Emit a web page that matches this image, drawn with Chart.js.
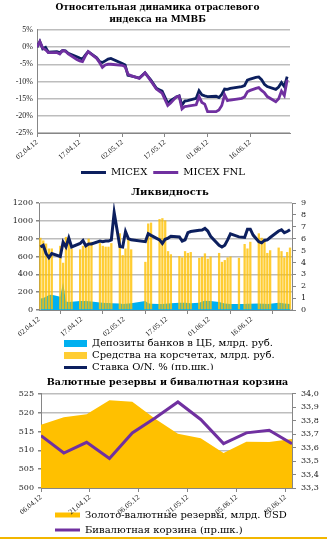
<!DOCTYPE html>
<html>
<head>
<meta charset="utf-8">
<script src="https://cdn.jsdelivr.net/npm/chart.js@4.4.0/dist/chart.umd.min.js"></script>
<style>
  body { margin: 0; background: #fff; width: 327px; height: 540px; position: relative; overflow: hidden; }
  canvas { position: absolute; left: 0; background: #fff; }
  #c1 { top: 0; }
  #c2 { top: 180px; }
  #c3 { top: 370px; }
  #rule { position: absolute; left: 0; top: 537px; width: 327px; height: 2px; background: #f2b600; }
</style>
</head>
<body>
<canvas id="c1" width="327" height="180"></canvas>
<canvas id="c2" width="327" height="200"></canvas>
<canvas id="c3" width="327" height="170"></canvas>
<div id="rule"></div>
<script>
Chart.defaults.font.family = "'DejaVu Serif', serif";
Chart.defaults.color = '#222';
Chart.defaults.animation = false;

// x ticks: every 15 days, day 0 = first date
const tickDays = [0, 15, 30, 45, 60, 75];
const tickLabels = ['02.04.12', '17.04.12', '02.05.12', '17.05.12', '01.06.12', '16.06.12'];
const weekTickLabels = ['06.04.12', '21.04.12', '06.05.12', '21.05.12', '05.06.12', '20.06.12'];

// chart 1: relative index dynamics, % (day offset from 02.04.12)
const days1 = [0,1,2,3,4,7,8,9,10,11,14,15,16,17,18,21,22,23,24,25,26,30,31,32,33,36,38,39,40,42,43,44,46,47,
  49,50,51,52,53,56,57,58,59,60,63,64,65,66,67,68,72,73,74,75,77,78,79,80,81,84,85,86,87,88];
const micex = [0,1.6,-0.5,-0.1,-1.5,-1.3,-1.6,-1.0,-1.1,-1.8,-2.8,-3.2,-3.5,-2.3,-1.3,-3.1,-4.2,-4.5,-4.0,-3.5,-3.3,
  -4.8,-5.2,-8.2,-8.4,-9.0,-7.5,-8.5,-9.5,-12.0,-12.4,-12.8,-16.4,-15.6,
  -14.5,-14.2,-16.9,-15.7,-15.6,-14.9,-12.7,-13.9,-14.2,-14.4,-14.3,-14.7,-13.8,-12.2,-12.3,-12.0,
  -11.5,-11.2,-9.6,-9.3,-8.8,-8.7,-9.5,-10.8,-11.5,-12.3,-11.6,-10.3,-11.5,-8.6];
const micexFnl = [0,1.6,-0.3,-0.8,-1.6,-1.6,-2.0,-1.0,-1.2,-2.0,-3.6,-4.0,-4.2,-2.6,-1.3,-3.3,-4.5,-5.9,-5.2,-5.0,-5.0,
  -5.3,-5.7,-7.9,-8.3,-9.1,-7.5,-8.6,-9.8,-12.2,-12.8,-13.4,-17.0,-16.3,
  -14.5,-14.3,-18.0,-17.3,-17.2,-16.8,-14.4,-16.1,-16.6,-18.8,-18.8,-18.3,-17.0,-13.9,-15.6,-15.4,
  -14.9,-14.5,-13.0,-12.6,-12.0,-11.8,-12.6,-13.3,-14.4,-15.9,-15.0,-12.8,-14.1,-9.5];

// chart 2: liquidity
const barDays = [0,1,2,3,4, 7,8,9,10,11, 14,15,16,17,18, 21,22,23,24,25, 28,29,30,31,32, 37,38,39,
  42,43,44,45,46, 49,50,51,52,53, 56,57,58,59,60, 63,64,65,66,67, 70, 72,73,74, 77,78,79,80,81, 84,85,86,87,88];
const corrAccounts = [810,780,745,690,690, 720,530,820,800,690, 680,720,740,800,765, 750,720,710,710,750,
  860,615,690,810,680, 540,970,980, 1020,1030,1005,660,625, 605,590,660,640,650, 585,595,635,575,600,
  640,540,560,590,600, 585, 740,690,765, 860,810,790,640,670, 700,660,590,650,700];
const deposits = [130,135,150,168,170, 150,310,95,90,92, 100,102,100,98,95, 85,80,78,78,75,
  72,68,70,72,75, 100,75,70, 68,68,70,72,75, 80,82,80,78,75, 80,95,105,102,100,
  90,80,72,70,68, 68, 68,70,70, 72,70,70,68,70, 80,78,72,70,68];
const rateDays = [0,1,2,3,4,7,8,9,10,11,14,15,16,17,18,21,22,23,24,25,26,28,29,30,31,32,37,38,39,
  42,43,44,45,46,49,50,51,52,53,56,57,58,59,60,63,64,65,66,67,70,72,73,74,75,77,78,79,80,81,84,85,86,87,88];
const rateON = [5.3,5.45,4.75,4.4,4.75, 4.5,5.7,5.3,6.05,5.3, 5.6,5.85,5.4,5.55,5.55, 5.8,5.75,5.8,5.8,5.9,8.2,
  5.35,5.3,6.6,6.0,5.9, 5.75,6.42,6.28, 5.9,5.6,5.95,6.05,6.2, 6.15,5.8,5.9,6.5,6.6,
  6.7,6.72,6.86,6.64,6.2, 5.45,5.3,5.45,5.9,6.4, 6.15, 6.1,6.8,6.8,6.3, 5.75,5.65,5.85,5.9,6.1,
  6.65,6.75,6.5,6.6,6.75];

// chart 3: reserves (weekly, day offset from 06.04.12) and basket
const weekDays = [0,7,14,21,28,35,42,49,56,63,70,77];
const reserves = [516.8,518.8,519.6,523.3,522.9,518.4,514.4,513.2,509.3,512.3,512.2,513.0];
const basket = [33.69,33.56,33.64,33.52,33.71,33.82,33.94,33.81,33.63,33.71,33.73,33.63];

const pts = (xs, ys) => xs.map((x, i) => ({x: x, y: ys[i]}));

// moves title / legend boxes after layout (legend box kept open to the canvas bottom)
const nudge = {
  id: 'nudge',
  afterLayout(chart, args, o) {
    const lg = chart.legend, tb = chart.titleBlock;
    if (lg && o.legend) {
      lg.left += o.legend[0]; lg.right += o.legend[0];
      lg.top += o.legend[1]; lg.bottom = chart.height;
    }
    if (tb && o.title) {
      tb.left += o.title[0]; tb.right += o.title[0];
      tb.top += o.title[1]; tb.bottom += o.title[1];
    }
  }
};

const gridGray = '#bdbdbd';
const axisGray = '#868686';
const byIndex = (a, b) => a.datasetIndex - b.datasetIndex;

function xAxis(min, max, labels, shift, h) {
  return {
    type: 'linear', min: min, max: max, offset: false,
    afterBuildTicks: s => { s.ticks = tickDays.map(d => ({value: d + shift})); },
    afterFit: s => { s.height = h; },
    ticks: { minRotation: 40, maxRotation: 40, autoSkip: false, padding: 1,
      font: {family: 'Liberation Serif', size: 7.5}, callback: (v, i) => labels[i] },
    grid: { drawOnChartArea: false, tickLength: 4, tickColor: axisGray },
    border: { color: axisGray }
  };
}

new Chart('c1', {
  type: 'line',
  data: {
    datasets: [
      { label: 'MICEX', data: pts(days1, micex), borderColor: '#0c1f5e', backgroundColor: '#0c1f5e',
        borderWidth: 2.8, pointRadius: 0, pointStyle: 'line', tension: 0, order: 2 },
      { label: 'MICEX FNL', data: pts(days1, micexFnl), borderColor: '#7030a0', backgroundColor: '#7030a0',
        borderWidth: 2.8, pointRadius: 0, pointStyle: 'line', tension: 0, order: 1 }
    ]
  },
  options: {
    responsive: false,
    layout: { padding: { right: 37 } },
    scales: {
      x: xAxis(0, 89, tickLabels, 0, 30),
      y: {
        min: -25, max: 5,
        afterFit: s => { s.width = 37; },
        ticks: { stepSize: 5, padding: 4, autoSkip: false, font: {family: 'Liberation Serif', size: 8},
          callback: v => v + '%' },
        grid: { color: gridGray, lineWidth: 1.5, drawTicks: false },
        border: { color: axisGray }
      }
    },
    plugins: {
      title: { display: true, text: ['Относительная динамика отраслевого', 'индекса на ММВБ'], color: '#000',
        font: {size: 9, weight: 'bold', lineHeight: 1.3}, padding: {top: 2, bottom: 4.5} },
      legend: { position: 'bottom', maxHeight: 17,
        labels: { usePointStyle: true, pointStyleWidth: 25, boxHeight: 8, padding: 6, color: '#000',
          font: {size: 10}, sort: byIndex } },
      tooltip: { enabled: false },
      nudge: { legend: [18, -1.5], title: [12.5, 0] }
    }
  },
  plugins: [nudge]
});

new Chart('c2', {
  type: 'bar',
  data: {
    datasets: [
      { type: 'line', label: 'Депозиты банков в ЦБ, млрд. руб.', data: pts(barDays, deposits), yAxisID: 'y',
        fill: 'origin', backgroundColor: '#00b0f0', borderColor: '#00b0f0', borderWidth: 0, pointRadius: 0,
        pointStyle: 'rect', tension: 0, order: 3 },
      { type: 'bar', label: 'Средства на корсчетах, млрд. руб.', data: pts(barDays, corrAccounts), yAxisID: 'y',
        backgroundColor: 'rgba(255,192,0,0.8)', borderWidth: 0, barPercentage: 0.9, categoryPercentage: 0.9,
        pointStyle: 'rect', order: 2 },
      { type: 'line', label: 'Ставка O/N, % (пр.шк.)', data: pts(rateDays, rateON), yAxisID: 'y1',
        borderColor: '#0c1f5e', backgroundColor: '#0c1f5e', borderWidth: 3, pointRadius: 0,
        pointStyle: 'line', tension: 0, order: 1 }
    ]
  },
  options: {
    responsive: false,
    scales: {
      x: xAxis(-0.5, 88.7, tickLabels, -0.5, 30),
      y: {
        position: 'left', min: 0, max: 1200,
        afterFit: s => { s.width = 39; },
        ticks: { stepSize: 200, padding: 3, autoSkip: false, font: {size: 8}, callback: v => String(v) },
        grid: { color: gridGray, lineWidth: 1.5, tickLength: 3, tickColor: axisGray },
        border: { color: axisGray }
      },
      y1: {
        position: 'right', min: 0, max: 9,
        afterFit: s => { s.width = 35; },
        ticks: { stepSize: 1, padding: 5, autoSkip: false, font: {size: 8} },
        grid: { drawOnChartArea: false, tickLength: 4, tickColor: axisGray },
        border: { color: axisGray }
      }
    },
    plugins: {
      title: { display: true, text: 'Ликвидность', color: '#000',
        font: {size: 10, weight: 'bold', lineHeight: 1.2}, padding: {top: 6, bottom: 5} },
      legend: { position: 'bottom', align: 'start', maxHeight: 40,
        labels: { usePointStyle: true, pointStyleWidth: 23, boxHeight: 7, padding: 2, color: '#000',
          font: {size: 10}, sort: byIndex } },
      tooltip: { enabled: false },
      nudge: { legend: [62, -3.5], title: [6.5, 0] }
    }
  },
  plugins: [nudge]
});

new Chart('c3', {
  type: 'line',
  data: {
    datasets: [
      { label: 'Золото-валютные резервы, млрд. USD', data: pts(weekDays, reserves), yAxisID: 'y',
        fill: 'origin', backgroundColor: '#ffc000', borderColor: '#ffc000', borderWidth: 0, pointRadius: 0,
        pointStyle: 'rect', tension: 0, order: 2 },
      { label: 'Бивалютная корзина (пр.шк.)', data: pts(weekDays, basket), yAxisID: 'y1',
        borderColor: '#7030a0', backgroundColor: '#7030a0', borderWidth: 3, pointRadius: 0,
        pointStyle: 'line', tension: 0, order: 1 }
    ]
  },
  options: {
    responsive: false,
    scales: {
      x: xAxis(0, 77, weekTickLabels, 0, 28),
      y: {
        position: 'left', min: 500, max: 525,
        afterFit: s => { s.width = 41; },
        ticks: { stepSize: 5, padding: 4, autoSkip: false, font: {size: 8} },
        grid: { color: gridGray, lineWidth: 1.5, tickLength: 3, tickColor: axisGray },
        border: { color: axisGray }
      },
      y1: {
        position: 'right', min: 33.3, max: 34.0,
        afterFit: s => { s.width = 35; },
        ticks: { stepSize: 0.1, padding: 5, autoSkip: false, font: {size: 8},
          callback: v => v.toFixed(1).replace('.', ',') },
        grid: { drawOnChartArea: false, tickLength: 4, tickColor: axisGray },
        border: { color: axisGray }
      }
    },
    plugins: {
      title: { display: true, text: 'Валютные резервы и бивалютная корзина', color: '#000',
        font: {size: 9.5, weight: 'bold', lineHeight: 1.2}, padding: {top: 7, bottom: 5.5} },
      legend: { position: 'bottom', align: 'start', maxHeight: 24,
        labels: { usePointStyle: true, pointStyleWidth: 25, boxHeight: 5, padding: 5, color: '#000',
          font: {size: 10}, sort: byIndex } },
      tooltip: { enabled: false },
      nudge: { legend: [50, -11], title: [4, 0] }
    }
  },
  plugins: [nudge]
});
</script>
</body>
</html>
